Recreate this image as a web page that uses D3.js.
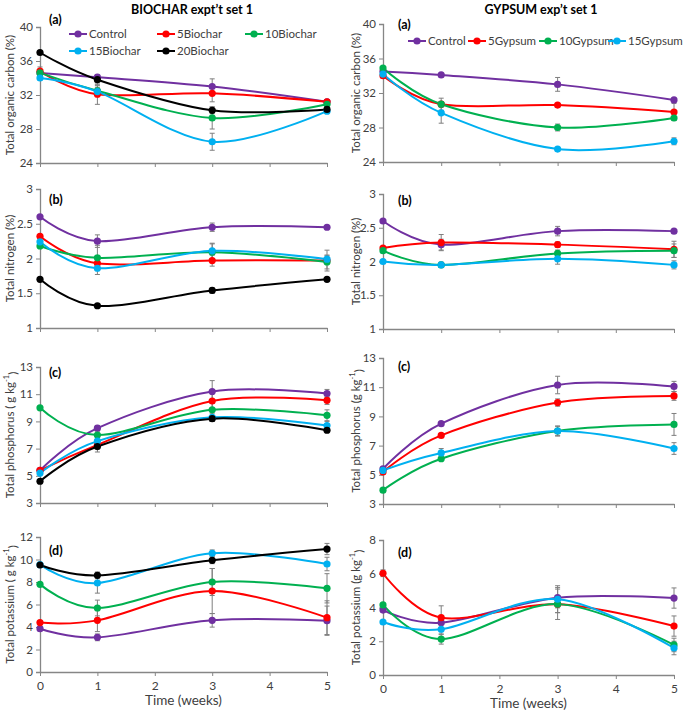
<!DOCTYPE html>
<html><head><meta charset="utf-8">
<script src="https://cdn.jsdelivr.net/npm/d3@7/dist/d3.min.js"></script>
<style>
body{margin:0;background:#fff;}
svg text{font-family:Lato,"Open Sans",sans-serif;}
</style></head><body>
<svg id="c" width="683" height="714"></svg>
<script>
const weeks = [0, 1, 3, 5];
const xTicks = [0, 1, 2, 3, 4, 5];
const biocharSeries = ["Control", "5Biochar", "10Biochar", "15Biochar", "20Biochar"];
const gypsumSeries = ["Control", "5Gypsum", "10Gypsum", "15Gypsum"];
const biocharColors = ["#7030A0", "#FF0000", "#00B050", "#00B0F0", "#000000"];
const gypsumColors = ["#7030A0", "#FF0000", "#00B050", "#00B0F0"];

// Biochar values
const bioTOC = [[34.6, 34.1, 33.0, 31.2], [34.8, 32.1, 32.2, 31.2], [34.6, 32.5, 29.3, 30.9], [34.0, 32.4, 26.5, 30.1], [37.0, 33.8, 30.2, 30.3]];
const bioTOCErr = [[0, 0, 0.9, 0], [0.5, 1.2, 1.0, 0.2], [0, 0.6, 1.3, 0.2], [0, 0.5, 1.0, 0.2], [0, 0.6, 0.4, 0.2]];
const bioN = [[2.60, 2.25, 2.45, 2.45], [2.32, 1.93, 1.97, 1.97], [2.18, 2.01, 2.09, 1.95], [2.24, 1.86, 2.11, 1.99], [1.70, 1.32, 1.54, 1.70]];
const bioNErr = [[0, 0.09, 0.06, 0], [0, 0.1, 0.08, 0.15], [0, 0.18, 0.12, 0.1], [0, 0.09, 0.11, 0.05], [0, 0, 0.04, 0]];
const bioP = [[5.4, 8.5, 11.2, 11.05], [5.4, 7.27, 10.5, 10.55], [10.0, 8.0, 9.85, 9.45], [5.2, 7.55, 9.3, 8.7], [4.6, 7.15, 9.2, 8.35]];
const bioPErr = [[0, 0.2, 0.8, 0.3], [0, 0.3, 0.6, 0.3], [0, 0.3, 0.5, 0.4], [0, 0.3, 0.3, 0.3], [0, 0.4, 0.2, 0.1]];
const bioK = [[3.85, 3.08, 4.59, 4.56], [4.39, 4.59, 7.2, 4.83], [7.79, 5.69, 8.0, 7.44], [9.54, 7.91, 10.55, 9.6], [9.51, 8.59, 9.93, 10.93]];
const bioKErr = [[0, 0.3, 0.6, 1.3], [0, 1.0, 2.0, 1.5], [0, 0.7, 1.2, 1.3], [0, 0.9, 0.3, 0.6], [0, 0.3, 0.3, 0.5]];

// Gypsum values
const gypTOC = [[34.5, 34.1, 33.0, 31.2], [34.0, 30.7, 30.6, 29.8], [34.9, 30.7, 28.0, 29.1], [34.2, 29.7, 25.5, 26.4]];
const gypTOCErr = [[0, 0, 0.8, 0], [0, 0.7, 0, 1.0], [0, 0.3, 0.4, 0.2], [0, 1.2, 0, 0.4]];
const gypN = [[2.60, 2.25, 2.45, 2.45], [2.20, 2.28, 2.25, 2.18], [2.16, 1.95, 2.12, 2.16], [2.00, 1.95, 2.04, 1.95]];
const gypNErr = [[0, 0.08, 0.07, 0], [0, 0.12, 0.04, 0.12], [0, 0.03, 0.05, 0.1], [0, 0.04, 0.08, 0.06]];
const gypP = [[5.4, 8.5, 11.15, 11.05], [5.2, 7.7, 9.95, 10.4], [3.95, 6.1, 8.0, 8.45], [5.3, 6.5, 8.0, 6.8]];
const gypPErr = [[0, 0, 0.6, 0.35], [0, 0, 0.25, 0.3], [0, 0, 0.35, 0.75], [0, 0.3, 0.3, 0.4]];
const gypK = [[3.85, 3.1, 4.58, 4.56], [6.03, 3.4, 4.19, 2.9], [4.15, 2.13, 4.2, 1.78], [3.14, 2.71, 4.49, 1.6]];
const gypKErr = [[0, 0, 0.6, 0.6], [0.2, 0.7, 0.9, 0.6], [0, 0.3, 0.5, 0.4], [0, 0.3, 0.8, 0.4]];

const yTicksTOC = [24, 28, 32, 36, 40];
const yTicksN = [1, 1.5, 2, 2.5, 3];
const yTicksP = [3, 5, 7, 9, 11, 13];
const yTicksKBio = [0, 2, 4, 6, 8, 10, 12];
const yTicksKGyp = [0, 2, 4, 6, 8];

const svg = d3.select("#c");
const cols = [
  {x0: 40, x1: 327, series: biocharSeries, colors: biocharColors, title: "BIOCHAR expt\u2019t set 1", titleX: 192, ylabX: 10, panelX: 49,
   panels: [
     {y0: 27, y1: 163, dom: [24, 40], ticks: yTicksTOC, data: bioTOC, err: bioTOCErr, label: "Total organic carbon (%)", tag: "(a)", tagY: 24},
     {y0: 189, y1: 328, dom: [1, 3], ticks: yTicksN, data: bioN, err: bioNErr, label: "Total nitrogen (%)", tag: "(b)", tagY: 204},
     {y0: 367, y1: 503, dom: [3, 13], ticks: yTicksP, data: bioP, err: bioPErr, label: "Total phosphorus ( g kg", sup: true, tag: "(c)", tagY: 377},
     {y0: 537, y1: 672, dom: [0, 12], ticks: yTicksKBio, data: bioK, err: bioKErr, label: "Total potassium ( g kg", sup: true, tag: "(d)", tagY: 555, bottom: true}
   ]},
  {x0: 383, x1: 674, series: gypsumSeries, colors: gypsumColors, title: "GYPSUM exp\u2019t set 1", titleX: 541, ylabX: 356, panelX: 398,
   panels: [
     {y0: 24, y1: 162, dom: [24, 40], ticks: yTicksTOC, data: gypTOC, err: gypTOCErr, label: "Total organic carbon (%)", tag: "(a)", tagY: 29},
     {y0: 194, y1: 329, dom: [1, 3], ticks: yTicksN, data: gypN, err: gypNErr, label: "Total nitrogen (%)", tag: "(b)", tagY: 205},
     {y0: 358, y1: 504, dom: [3, 13], ticks: yTicksP, data: gypP, err: gypPErr, label: "Total phosphorus (g kg", sup: true, tag: "(c)", tagY: 371},
     {y0: 540, y1: 675, dom: [0, 8], ticks: yTicksKGyp, data: gypK, err: gypKErr, label: "Total potassium (g kg", sup: true, tag: "(d)", tagY: 557, bottom: true}
   ]}
];

const axisColor = "#868686";
const textColor = "#404040";

cols.forEach(col => {
  const x = d3.scaleLinear().domain([0, 5]).range([col.x0, col.x1]);
  svg.append("text").attr("x", col.titleX).attr("y", 14).attr("text-anchor", "middle")
    .attr("font-size", 12.5).attr("font-weight", "bold").attr("fill", "#000").text(col.title);

  col.panels.forEach(p => {
    const y = d3.scaleLinear().domain(p.dom).range([p.y1, p.y0]);
    const g = svg.append("g");
    const ya = g.append("g").attr("transform", `translate(${col.x0},0)`)
      .call(d3.axisLeft(y).tickValues(p.ticks).tickSize(4).tickFormat(d3.format("")));
    ya.select(".domain").attr("stroke", axisColor).attr("stroke-width", 1.3);
    ya.selectAll(".tick line").attr("stroke", axisColor);
    ya.selectAll(".tick text").attr("fill", textColor).attr("font-size", 11.5).attr("font-family", "Lato, sans-serif");
    const xa = g.append("g").attr("transform", `translate(0,${p.y1})`)
      .call(d3.axisBottom(x).tickValues(xTicks).tickSize(4).tickSizeOuter(0).tickFormat(p.bottom ? d3.format("d") : ""));
    xa.select(".domain").attr("stroke", axisColor).attr("stroke-width", 1.3);
    xa.selectAll(".tick line").attr("stroke", axisColor);
    xa.selectAll(".tick text").attr("fill", textColor).attr("font-size", 12).attr("font-family", "Lato, sans-serif").attr("dy", "0.9em");
    if (p.bottom) {
      g.append("text").attr("x", (col.x0 + col.x1) / 2).attr("y", p.y1 + 33).attr("text-anchor", "middle")
        .attr("font-size", 13.5).attr("fill", textColor).text("Time (weeks)");
    }
    const lab = g.append("text").attr("transform", `translate(${col.ylabX},${(p.y0 + p.y1) / 2}) rotate(-90)`)
      .attr("text-anchor", "middle").attr("dy", "0.35em").attr("font-size", 11.5).attr("fill", textColor);
    lab.append("tspan").text(p.label);
    if (p.sup) {
      lab.append("tspan").attr("dy", "-0.7em").attr("font-size", 7.5).text("-1");
      lab.append("tspan").attr("dy", "0.7em").text(")");
    }
    g.append("text").attr("x", col.panelX).attr("y", p.tagY).attr("font-size", 12.5).attr("font-weight", "bold").attr("fill", "#000").text(p.tag);

    const line = d3.line().x((d, i) => x(weeks[i])).y(d => y(d)).curve(d3.curveCardinal.tension(0));
    p.data.forEach((vals, si) => {
      g.append("path").attr("d", line(vals)).attr("fill", "none").attr("stroke", col.colors[si]).attr("stroke-width", 2);
    });
    p.data.forEach((vals, si) => {
      vals.forEach((v, i) => {
        const e = p.err[si][i];
        if (e > 0) {
          const cx = x(weeks[i]);
          const eg = g.append("g").attr("stroke", "#7f7f7f").attr("stroke-width", 1);
          eg.append("line").attr("x1", cx).attr("x2", cx).attr("y1", y(v - e)).attr("y2", y(v + e));
          eg.append("line").attr("x1", cx - 2.5).attr("x2", cx + 2.5).attr("y1", y(v - e)).attr("y2", y(v - e));
          eg.append("line").attr("x1", cx - 2.5).attr("x2", cx + 2.5).attr("y1", y(v + e)).attr("y2", y(v + e));
        }
      });
    });
    p.data.forEach((vals, si) => {
      g.selectAll(null).data(vals).enter().append("circle")
        .attr("cx", (d, i) => x(weeks[i])).attr("cy", d => y(d)).attr("r", 3.6).attr("fill", col.colors[si]);
    });
  });
});

const legBio = [
  {x: 69, y: 34}, {x: 157, y: 34}, {x: 245, y: 34}, {x: 69, y: 51}, {x: 157, y: 51}
];
const legGyp = [{x: 408, y: 41}, {x: 468, y: 41}, {x: 539, y: 41}, {x: 608, y: 41}];
function legend(series, colors, pos) {
  series.forEach((s, i) => {
    const gg = svg.append("g").attr("transform", `translate(${pos[i].x},${pos[i].y})`);
    gg.append("line").attr("x1", 0).attr("x2", 18).attr("stroke", colors[i]).attr("stroke-width", 2);
    gg.append("circle").attr("cx", 9).attr("r", 3.6).attr("fill", colors[i]);
    gg.append("text").attr("x", 20).attr("dy", "0.35em").attr("font-size", 11.5).attr("fill", textColor).text(s);
  });
}
legend(biocharSeries, biocharColors, legBio);
legend(gypsumSeries, gypsumColors, legGyp);
</script>
</body></html>
